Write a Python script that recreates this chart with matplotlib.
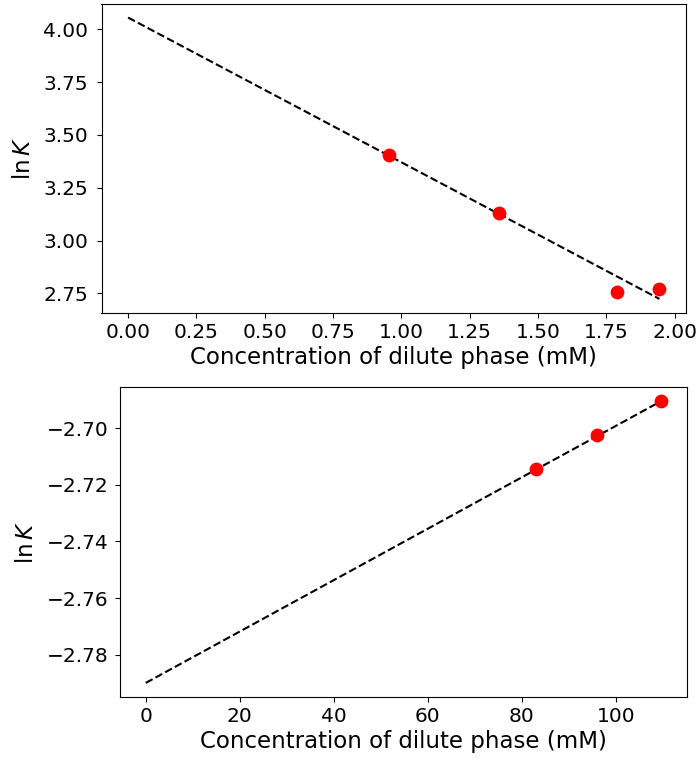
import matplotlib
matplotlib.use("Agg")
import matplotlib.pyplot as plt

# Top panel data
top_x = [0.953, 1.357, 1.787, 1.944]
top_y = [3.403, 3.130, 2.756, 2.770]
top_line_x = [0.0, 1.944]
top_line_y = [4.055, 2.724]

# Bottom panel data
bot_x = [83.1, 96.1, 109.7]
bot_y = [-2.7145, -2.7024, -2.6904]
bot_line_x = [0.0, 109.7]
bot_line_y = [-2.790, -2.6904]

xlabel = "Concentration of dilute phase (mM)"
ylabel = r"$\ln K$"

W, H = 699, 764
fig = plt.figure(figsize=(W / 100, H / 100), dpi=100)
plt.rcParams['font.size'] = 14

LBL = 16.5
TCK = 14.5

def box(l, t, r, b):
    return [l / W, 1 - b / H, (r - l) / W, (b - t) / H]

ax1 = fig.add_axes(box(101.5, 3.5, 686, 313))
ax1.plot(top_line_x, top_line_y, 'k--', lw=1.5)
ax1.scatter(top_x, top_y, color='red', s=80, zorder=3)
ax1.set_xlabel(xlabel, fontsize=LBL, labelpad=3)
ax1.set_ylabel(ylabel, fontsize=LBL, labelpad=6)
ax1.set_xticks([0, 0.25, 0.5, 0.75, 1.0, 1.25, 1.5, 1.75, 2.0])
ax1.set_yticks([2.75, 3.0, 3.25, 3.5, 3.75, 4.0])
ax1.tick_params(labelsize=TCK)
ax1.tick_params(axis='y', pad=6)

ax2 = fig.add_axes(box(120, 387, 687, 697))
ax2.plot(bot_line_x, bot_line_y, 'k--', lw=1.5)
ax2.scatter(bot_x, bot_y, color='red', s=80, zorder=3)
ax2.set_xlabel(xlabel, fontsize=LBL, labelpad=3)
ax2.set_ylabel(ylabel, fontsize=LBL, labelpad=6)
ax2.set_xticks([0, 20, 40, 60, 80, 100])
ax2.set_yticks([-2.78, -2.76, -2.74, -2.72, -2.70])
ax2.tick_params(labelsize=TCK)
ax2.tick_params(axis='y', pad=5)

fig.savefig("out.png", dpi=100)
